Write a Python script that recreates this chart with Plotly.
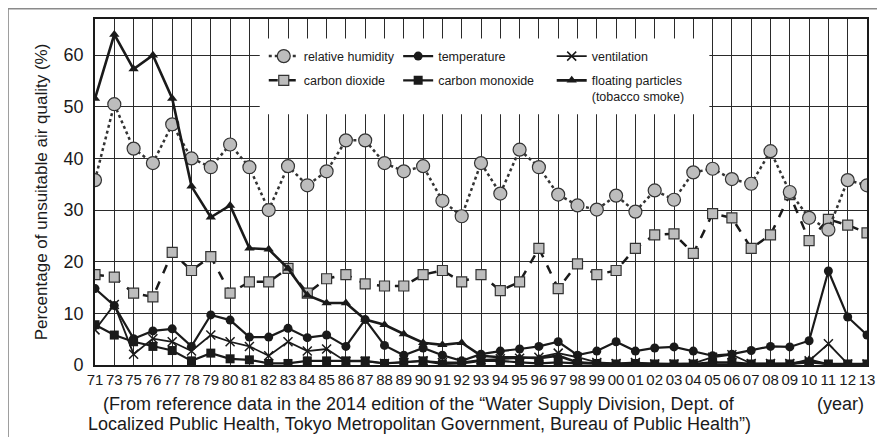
import plotly.graph_objects as go

years = ["71", "73", "75", "76", "77", "78", "79", "80", "81", "82", "83", "84", "85", "86",
         "87", "88", "89", "90", "91", "92", "93", "94", "95", "96", "97", "98", "99", "00",
         "01", "02", "03", "04", "05", "06", "07", "08", "09", "10", "11", "12", "13"]

relative_humidity = [35.8, 50.5, 41.9, 39.1, 46.6, 40.0, 38.3, 42.7, 38.3, 30.0, 38.5, 34.8, 37.5, 43.5,
                     43.5, 39.1, 37.5, 38.5, 31.8, 28.8, 39.1, 33.2, 41.7, 38.3, 33.0, 30.9, 30.1, 32.8,
                     29.7, 33.8, 32.0, 37.3, 38.0, 36.0, 35.1, 41.4, 33.5, 28.5, 26.2, 35.8, 34.8]

carbon_dioxide = [17.5, 17.0, 13.9, 13.2, 21.8, 18.3, 21.0, 13.9, 16.1, 16.1, 18.7, 13.9, 16.7, 17.5,
                  15.7, 15.3, 15.3, 17.5, 18.3, 16.1, 17.5, 14.4, 16.1, 22.6, 14.8, 19.6, 17.5, 18.3,
                  22.6, 25.2, 25.4, 21.6, 29.3, 28.5, 22.6, 25.2, 33.0, 24.1, 28.2, 27.1, 25.6]

temperature = [14.8, 11.5, 5.1, 6.6, 7.0, 3.6, 9.7, 8.7, 5.4, 5.4, 7.1, 5.3, 5.8, 3.6,
               8.8, 3.8, 1.9, 3.3, 1.9, 0.8, 2.1, 2.7, 3.1, 3.6, 4.5, 1.9, 2.7, 4.5,
               2.7, 3.3, 3.5, 2.7, 1.8, 2.1, 2.8, 3.6, 3.5, 4.7, 18.2, 9.3, 5.8]

carbon_monoxide = [7.8, 5.8, 4.5, 3.6, 2.8, 0.8, 2.3, 1.2, 1.0, 0.3, 0.3, 0.8, 0.8, 0.8,
                   0.8, 0.3, 0.5, 0.8, 0.2, 0.3, 0.8, 0.8, 0.5, 0.3, 0.5, 0.3, 0.3, 0.2,
                   0.3, 0.2, 0.2, 0.2, 0.5, 0.5, 0.2, 0.2, 0.2, 0.5, 0.2, 0.2, 0.2]

ventilation = [6.8, 11.7, 2.1, 5.1, 4.5, 2.7, 5.8, 4.5, 3.6, 1.8, 4.5, 2.7, 3.1, 0.7,
               0.7, 0.3, 0.5, 0.8, 0.5, 0.5, 1.0, 1.2, 1.3, 1.5, 2.3, 1.5, 0.5, 0.3,
               0.5, 0.2, 0.2, 0.3, 1.5, 2.0, 0.3, 0.3, 0.3, 0.8, 4.1, 0.2, 0.2]

floating_particles = [51.6, 64.0, 57.3, 60.0, 51.6, 34.6, 28.6, 30.9, 22.6, 22.4, 18.7, 13.5, 12.0, 12.0,
                      8.8, 7.8, 6.0, 4.3, 3.9, 4.3, 1.8, 1.5, 1.5, 1.3, 1.8, 0.5, 0.3, 0.1,
                      0.1, 0.1, 0.1, 0.1, 0.1, 0.1, 0.1, 0.1, 0.1, 1.0, 0.1, 0.1, 0.1]

FONT = "Liberation Sans, Arial, sans-serif"
INK = "#1a1a1a"

fig = go.Figure()

# column 1 legend (CO2 drawn first so humidity circles sit on top)
fig.add_trace(go.Scatter(x=years, y=carbon_dioxide, name="carbon dioxide", mode="lines+markers",
                         line=dict(color=INK, width=2.5, dash="dash"),
                         marker=dict(symbol="square", size=10, color="#bdbdbd", line=dict(color="#333333", width=1.2)),
                         legend="legend", legendgroup="co2", legendrank=2))
fig.add_trace(go.Scatter(x=years, y=relative_humidity, name="relative humidity", mode="lines+markers",
                         line=dict(color="#333333", width=2.5, dash="dot"),
                         marker=dict(symbol="circle", size=13, color="#bdbdbd", line=dict(color="#333333", width=1.2)),
                         legend="legend", legendgroup="rh", legendrank=1))
# column 2 legend
fig.add_trace(go.Scatter(x=years, y=temperature, name="temperature", mode="lines+markers",
                         line=dict(color=INK, width=2.2),
                         marker=dict(symbol="circle", size=9, color=INK),
                         legend="legend2", legendgroup="t", legendrank=1))
fig.add_trace(go.Scatter(x=years, y=carbon_monoxide, name="carbon monoxide", mode="lines+markers",
                         line=dict(color=INK, width=2.2),
                         marker=dict(symbol="square", size=9, color=INK),
                         legend="legend2", legendgroup="co", legendrank=2))
# column 3 legend
fig.add_trace(go.Scatter(x=years, y=ventilation, name="ventilation", mode="lines+markers",
                         line=dict(color=INK, width=1.8),
                         marker=dict(symbol="x-thin", size=9, color=INK, line=dict(color=INK, width=1.5)),
                         legend="legend3", legendgroup="v", legendrank=1))
fig.add_trace(go.Scatter(x=years, y=floating_particles, name="floating particles<br>(tobacco smoke)",
                         mode="lines+markers",
                         line=dict(color=INK, width=2.6),
                         marker=dict(symbol="triangle-up", size=9, color=INK),
                         legend="legend3", legendgroup="fp", legendrank=2))

legend_common = dict(bgcolor="rgba(0,0,0,0)", borderwidth=0, font=dict(family=FONT, size=12.5, color=INK),
                     yanchor="top", xanchor="left", traceorder="grouped", tracegroupgap=5, valign="top",
                     orientation="v")

# the page body adds an 8px offset, so the figure is 8px smaller and margins shifted
fig.update_layout(
    width=877, height=429,
    margin=dict(l=87, r=18, t=11, b=72, autoexpand=False),
    paper_bgcolor="white", plot_bgcolor="white",
    font=dict(family=FONT, color=INK),
    showlegend=True,
    legend=dict(x=0.2186, y=0.935, **legend_common),
    legend2=dict(x=0.3927, y=0.935, **legend_common),
    legend3=dict(x=0.5916, y=0.935, **legend_common),
    xaxis=dict(type="category", range=[0, 40], showgrid=True, gridcolor="#2a2a2a", gridwidth=1.4,
               showline=True, mirror=True, linecolor=INK, linewidth=1.6, ticks="",
               tickmode="array", tickvals=years, ticktext=years, automargin=False,
               tickfont=dict(family=FONT, size=15, color=INK), tickangle=0, zeroline=False),
    yaxis=dict(range=[0, 67], dtick=10, tick0=0, showgrid=True, gridcolor="#2a2a2a", gridwidth=1.4,
               showline=True, mirror=True, linecolor=INK, linewidth=1.6, ticks="", automargin=False,
               tickfont=dict(family=FONT, size=18, color=INK), zeroline=False, ticklabelstandoff=6,
               title=dict(text="Percentage of unsuitable air quality (%)", font=dict(family=FONT, size=17, color=INK),
                          standoff=12)),
    shapes=[
        dict(type="rect", xref="paper", yref="paper", x0=0.2134, x1=0.7958, y0=0.7249, y1=0.9438,
             fillcolor="white", line=dict(width=0), layer="above"),
        dict(type="rect", xref="paper", yref="paper", x0=-0.1126, x1=1.0236, y0=-0.216, y1=1.0296,
             fillcolor="rgba(0,0,0,0)", line=dict(color="#8a8a8a", width=1.5), layer="below"),
    ],
    annotations=[
        dict(text="(From reference data in the 2014 edition of the “Water Supply Division, Dept. of",
             xref="paper", yref="paper", x=0.4202, y=-0.1124, xanchor="center", yanchor="middle",
             showarrow=False, font=dict(family=FONT, size=18, color=INK)),
        dict(text="Localized Public Health, Tokyo Metropolitan Government, Bureau of Public Health”)",
             xref="paper", yref="paper", x=0.4202, y=-0.1716, xanchor="center", yanchor="middle",
             showarrow=False, font=dict(family=FONT, size=18, color=INK)),
        dict(text="(year)", xref="paper", yref="paper", x=0.9987, y=-0.1124, xanchor="right", yanchor="middle",
             showarrow=False, font=dict(family=FONT, size=18, color=INK)),
    ],
)

fig.write_html("out.html")
